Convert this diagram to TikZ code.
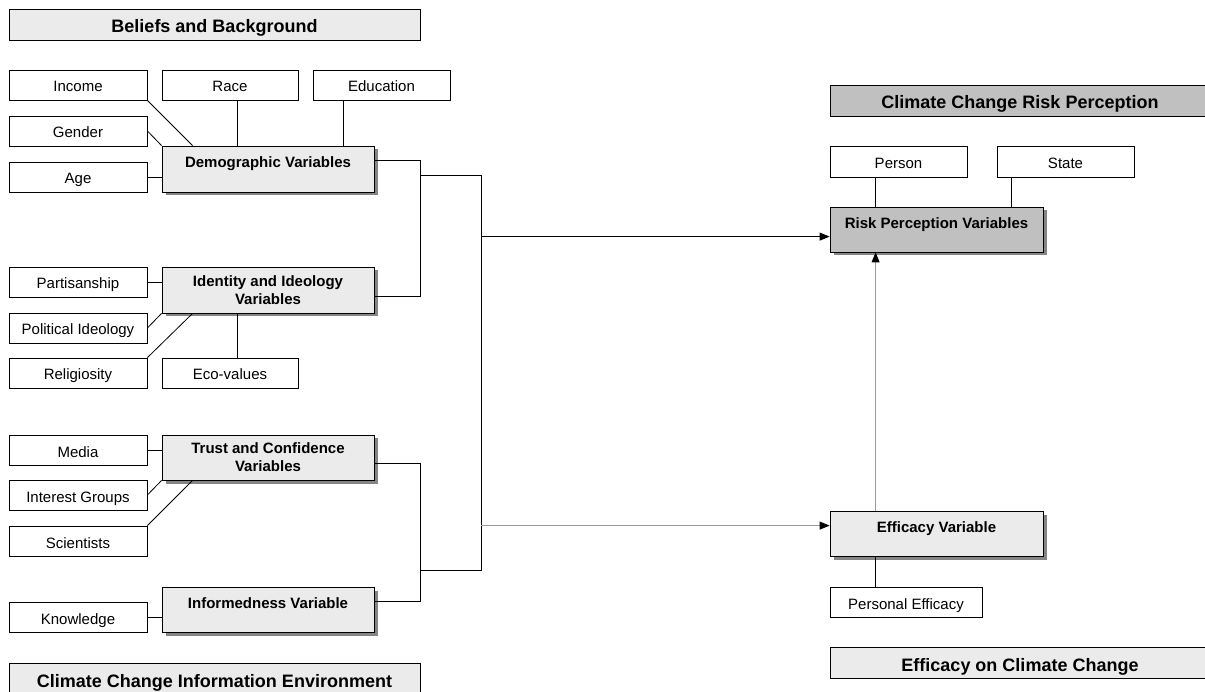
\documentclass[tikz,border=0pt]{standalone}
\usepackage{fontspec}
\setmainfont{Liberation Sans}
\usetikzlibrary{arrows.meta,shadows,calc}
\definecolor{lightbox}{HTML}{EBEBEB}
\definecolor{midbox}{HTML}{C0C0C0}
\definecolor{shadowgray}{HTML}{858585}
\definecolor{thinline}{HTML}{9A9A9A}
\begin{document}
\begin{tikzpicture}[x=1pt,y=-1pt,
  base/.style={draw=black,line width=0.8pt,rectangle,inner sep=0pt},
  small/.style={base,fill=white,minimum width=138pt,minimum height=30pt,text height=14pt,text depth=0pt,font=\fontsize{15}{18}\selectfont},
  header/.style={base,fill=lightbox,minimum width=411pt,minimum height=31pt,text height=17pt,text depth=0pt,font=\bfseries\fontsize{18}{22}\selectfont},
  varbox/.style={base,fill=lightbox,minimum width=212pt,font=\bfseries\fontsize{15}{18}\selectfont,
    drop shadow={shadow xshift=3.5pt,shadow yshift=-3.5pt,fill=shadowgray,opacity=1}},
  vartop/.style={varbox,text height=21.5pt,text depth=#1},
  vartwo/.style={varbox,align=center,minimum height=#1},
  link/.style={draw=black,line width=0.8pt},
  faint/.style={draw=thinline,line width=0.8pt},
  tip/.style={-{Triangle[length=10pt,width=8pt,color=black]}}
]
\useasboundingbox (0,0) rectangle (1205,692);
\clip (0,0) rectangle (1205,692);

% headers
\node[header] (bb) at (214.5,24.5) {Beliefs and Background};
\node[header] (cie) at (214.5,678.5) {Climate Change Information Environment};
\node[header,fill=midbox,minimum width=380pt] (ccrp) at (1020,100.5) {Climate Change Risk Perception};
\node[header,minimum width=380pt] (ecc) at (1020,662.5) {Efficacy on Climate Change};

% demographic
\node[small] (inc) at (78,85) {Income};
\node[small,minimum width=136pt] (race) at (230,85) {Race};
\node[small,minimum width=137pt] (edu) at (381.5,85) {Education};
\node[small] (gen) at (78,131) {Gender};
\node[small] (age) at (78,177) {Age};
\node[vartop=24.5pt] (demo) at (268,169) {Demographic Variables};

% identity
\node[small] (part) at (78,282) {Partisanship};
\node[small] (pol) at (78,328) {Political Ideology};
\node[small] (rel) at (78,373) {Religiosity};
\node[small,minimum width=136pt] (eco) at (230,373) {Eco-values};
\node[vartwo=46pt] (ident) at (268,290) {Identity and Ideology\\Variables};

% trust
\node[small] (media) at (78,450) {Media};
\node[small] (ig) at (78,495) {Interest Groups};
\node[small] (sci) at (78,541) {Scientists};
\node[vartwo=45pt] (trust) at (268,457.5) {Trust and Confidence\\Variables};

% informedness
\node[small] (know) at (78,617) {Knowledge};
\node[vartop=23.5pt] (inf) at (268,609.5) {Informedness Variable};

% right side
\node[small,minimum width=137pt,minimum height=31pt] (person) at (898.5,161.5) {Person};
\node[small,minimum width=137pt,minimum height=31pt] (state) at (1065.5,161.5) {State};
\node[vartop=23.5pt,fill=midbox,minimum width=213pt] (risk) at (936.5,229.5) {Risk Perception Variables};
\node[vartop=23.5pt,minimum width=213pt] (eff) at (936.5,533.5) {Efficacy Variable};
\node[small,minimum width=152pt] (pe) at (906,602) {Personal Efficacy};

% demographic links
\draw[link] (inc.south east) -- ($(demo.north west)+(31,0)$);
\draw[link] (gen.east) -- (demo.north west);
\draw[link] (age.east) -- (age.east -| demo.west);
\coordinate (dr) at ($(demo.north west)+(76,0)$);
\draw[link] (dr) -- (dr |- race.south);
\coordinate (de) at ($(demo.north west)+(182,0)$);
\draw[link] (de) -- (de |- edu.south);

% identity links
\draw[link] (part.east) -- (part.east -| ident.west);
\draw[link] (pol.east) -- (ident.south west);
\draw[link] (rel.north east) -- ($(ident.south west)+(31,0)$);
\coordinate (ie) at ($(ident.south west)+(76,0)$);
\draw[link] (ie) -- (ie |- eco.north);

% trust links
\draw[link] (media.east) -- (media.east -| trust.west);
\draw[link] (ig.east) -- (trust.south west);
\draw[link] (sci.north east) -- ($(trust.south west)+(31,0)$);
\draw[link] (know.east) -- (know.east -| inf.west);

% brackets
\coordinate (d1) at ($(demo.north east)+(0,15)$);
\coordinate (d2) at ($(ident.north east)+(0,30)$);
\coordinate (t1) at ($(trust.north east)+(0,29)$);
\coordinate (t2) at ($(inf.north east)+(0,15)$);
\coordinate (ba) at ($(d1)+(46,0)$);
\coordinate (bb2) at ($(t1)+(46,0)$);
\draw[link] (d1) -- (ba) -- (ba |- d2) -- (d2);
\draw[link] (t1) -- (bb2) -- (bb2 |- t2) -- (t2);
\coordinate (j1) at ($(ba)+(0,15)$);
\coordinate (j2) at ($(bb2)+(0,107)$);
\coordinate (trunk) at ($(j1)+(61,0)$);
\draw[link] (j1) -- (trunk) -- (trunk |- j2) -- (j2);

% arrows
\coordinate (rin) at ($(risk.north west)+(0,30)$);
\draw[link,tip] (trunk |- rin) -- (rin);
\coordinate (ein) at ($(eff.north west)+(0,15)$);
\draw[faint,tip] (trunk |- ein) -- (ein);
\coordinate (eup) at ($(eff.north west)+(46,0)$);
\draw[faint,tip] (eup) -- (eup |- risk.south);

% right links
\coordinate (rp) at ($(risk.north west)+(46,0)$);
\draw[link] (rp) -- (rp |- person.south);
\coordinate (rs) at ($(risk.north west)+(182,0)$);
\draw[link] (rs) -- (rs |- state.south);
\draw[link] ($(eff.south west)+(46,0)$) -- ($(pe.north west)+(46,0)$);
\end{tikzpicture}
\end{document}
